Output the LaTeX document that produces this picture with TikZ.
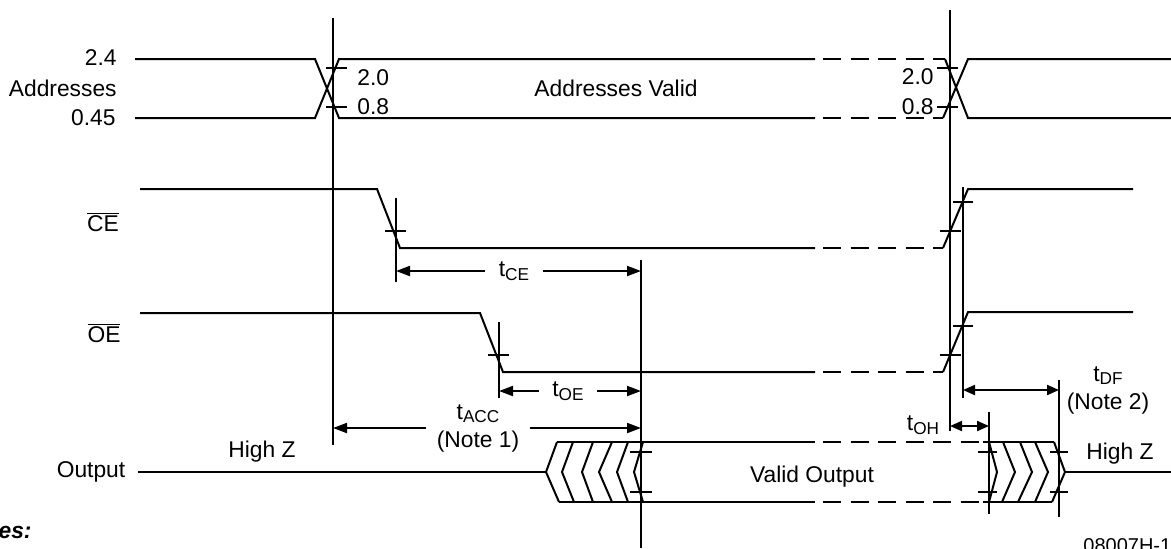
\documentclass[tikz,border=0pt]{standalone}
\usepackage{fontspec}
\setmainfont{Liberation Sans}
\usetikzlibrary{arrows.meta}

\newcommand{\tsub}[1]{t\raisebox{-0.3ex}{\fontsize{8.6}{9}\selectfont #1}}

\tikzset{
  sig/.style={line width=1pt},
  dsh/.style={line width=1pt, dash pattern=on 9pt off 4.75pt},
  dim/.style={line width=1pt, -{Triangle[length=7pt,width=5pt]}},
  dimboth/.style={line width=1pt, {Triangle[length=6pt,width=5pt]}-{Triangle[length=6pt,width=5pt]}},
  lbl/.style={inner sep=0pt},
  gap/.style={inner xsep=6.5pt, inner ysep=0pt}
}

\begin{document}
\begin{tikzpicture}[x=0.5pt,y=-0.5pt,font=\fontsize{11.4}{13}\selectfont]
\useasboundingbox (0,0) rectangle (1171,548);

% reference lines
\coordinate (va) at (333,18);
\coordinate (vb) at (950,10);
\coordinate (vc) at (641,260);
\coordinate (vd) at (963,187);
\coordinate (ve) at (1059,380);
\coordinate (vf) at (989,412);

\draw[sig] (va) -- (333,445);
\draw[sig] (vb) -- (950,431);
\draw[sig] (vc) -- (641,548);
\draw[sig] (vd) -- (963,398);
\draw[sig] (ve) -- (1059,517);
\draw[sig] (vf) -- (989,514);
\draw[sig] (396,198) -- (396,282);
\draw[sig] (499,322) -- (499,398);

% addresses
\draw[sig] (135,59) -- (315,59) -- (339,118) -- (815,118);
\draw[sig] (135,118) -- (315,118) -- (339,59) -- (815,59);
\draw[dsh] (823,59) -- (945,59);
\draw[dsh] (823,118) -- (943,118);
\draw[sig] (945,59) -- (968,118) -- (1171,118);
\draw[sig] (943,118) -- (968,59) -- (1171,59);

\draw[sig] (326,68) -- (347,68);
\draw[sig] (326,107) -- (347,107);
\draw[sig] (937,68) -- (958,68);
\draw[sig] (937,107) -- (958,107);

\node[lbl,anchor=east] (a24) at (117,58) {2.4};
\node[lbl,anchor=east] (aname) at (117,88) {Addresses};
\node[lbl,anchor=east] (a045) at (116,118) {0.45};
\node[lbl,anchor=west] (a20l) at (357,78) {2.0};
\node[lbl,anchor=west] (a08l) at (357,107) {0.8};
\node[lbl,anchor=east] (a20r) at (934,77) {2.0};
\node[lbl,anchor=east] (a08r) at (934,107) {0.8};
\node[lbl] (avalid) at (616,88) {Addresses Valid};

% chip enable
\draw[sig] (140,189) -- (377,189) -- (400,248) -- (815,248);
\draw[dsh] (823,248) -- (943,248);
\draw[sig] (943,248) -- (968,189) -- (1133,189);
\draw[sig] (385,231) -- (406,231);
\draw[sig] (940,231) -- (961,231);
\draw[sig] (953,202) -- (973,202);
\node[lbl] (cename) at (103,222) {$\overline{\mbox{CE}}$};

% output enable
\draw[sig] (140,313) -- (480,313) -- (503,372) -- (815,372);
\draw[dsh] (823,372) -- (943,372);
\draw[sig] (943,372) -- (968,312) -- (1133,312);
\draw[sig] (488,355) -- (509,355);
\draw[sig] (940,355) -- (961,355);
\draw[sig] (953,326) -- (973,326);
\node[lbl] (oename) at (104,333) {$\overline{\mbox{OE}}$};

% output
\draw[sig] (138,472) -- (546,472);
\draw[sig] (557,442) -- (546,472) -- (559,502);
\draw[sig] (573,442) -- (562,472) -- (574,502);
\draw[sig] (593,442) -- (582,472) -- (593,502);
\draw[sig] (612,442) -- (599,472) -- (612,502);
\draw[sig] (628,442) -- (617,472) -- (628,502);
\draw[sig] (643,442) -- (634,472) -- (643,502);
\draw[sig] (557,442) -- (815,442);
\draw[sig] (559,502) -- (815,502);
\draw[dsh] (823,442) -- (983,442);
\draw[dsh] (823,502) -- (983,502);
\draw[sig] (983,442) -- (1054,442);
\draw[sig] (983,502) -- (1052,502);
\draw[sig] (989,442) -- (997,472) -- (989,502);
\draw[sig] (1003,442) -- (1015,472) -- (1002,502);
\draw[sig] (1020,442) -- (1032,472) -- (1018,502);
\draw[sig] (1035,442) -- (1048,472) -- (1035,502);
\draw[sig] (1054,442) -- (1065,472) -- (1052,502);
\draw[sig] (1065,472) -- (1171,472);

\draw[sig] (630,452) -- (652,452);
\draw[sig] (630,492) -- (652,492);
\draw[sig] (978,452) -- (997,452);
\draw[sig] (978,492) -- (997,492);
\draw[sig] (1050,452) -- (1068,452);
\draw[sig] (1050,492) -- (1068,492);

\node[lbl] (outname) at (91,472) {Output};
\node[lbl] (hizl) at (262,452) {High Z};
\node[lbl] (hizr) at (1120,454) {High Z};
\node[lbl] (vout) at (812,477) {Valid Output};

% timing parameters
\node[gap] (tce) at (514,271) {\tsub{CE}};
\draw[dim] (tce.west) -- (tce.west -| 396,0);
\draw[dim] (tce.east) -- (tce.east -| vc);

\node[gap] (toe) at (568,391) {\tsub{OE}};
\draw[dim] (toe.west) -- (toe.west -| 499,0);
\draw[dim] (toe.east) -- (toe.east -| vc);

\node[gap,align=center,inner xsep=5pt] (tacc) at (478,428) {\tsub{ACC}\\[1pt](Note 1)};
\draw[dim] (tacc.west) -- (tacc.west -| va);
\draw[dim] (tacc.east) -- (tacc.east -| vc);

\coordinate (tdfl) at (963,390);
\draw[dimboth] (tdfl) -- (tdfl -| ve);
\node[lbl,align=center] (tdf) at (1108,390) {\tsub{DF}\\[1pt](Note 2)};

\coordinate (tohl) at (950,426);
\draw[dimboth] (tohl) -- (tohl -| vf);
\node[lbl] (toh) at (923,425) {\tsub{OH}};

% notes
\node[lbl,anchor=base east,font=\fontsize{11.4}{13}\selectfont\bfseries\itshape] (notes) at (32,538) {Notes:};
\node[lbl,anchor=north west,font=\fontsize{10}{12}\selectfont] (fig) at (1083,538) {08007H-1};

\end{tikzpicture}
\end{document}
